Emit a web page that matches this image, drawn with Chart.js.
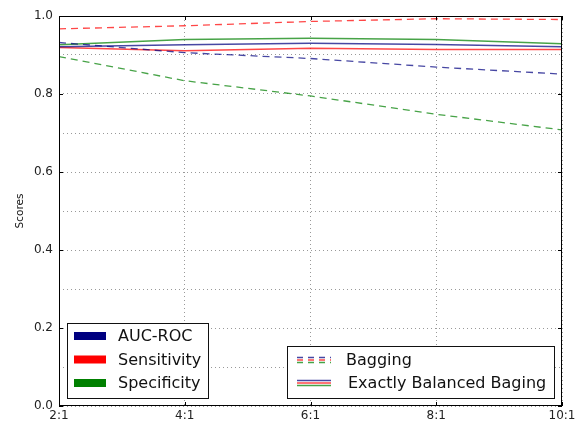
<!DOCTYPE html>
<html><head><meta charset="utf-8">
<script src="https://cdn.jsdelivr.net/npm/chart.js@4"></script>
<style>html,body{margin:0;padding:0;background:#fff}#wrap{width:582px;height:425px}</style>
</head><body><div id="wrap"><canvas id="c" width="582" height="425"></canvas></div>
<script>
const categories = ['2:1', '4:1', '6:1', '8:1', '10:1'];
const bagAUC  = [0.932, 0.906, 0.891, 0.869, 0.851];
const bagSens = [0.967, 0.975, 0.986, 0.993, 0.991];
const bagSpec = [0.896, 0.834, 0.795, 0.748, 0.708];
const ebbAUC  = [0.921, 0.926, 0.930, 0.927, 0.921];
const ebbSens = [0.919, 0.911, 0.917, 0.914, 0.914];
const ebbSpec = [0.926, 0.940, 0.943, 0.940, 0.929];
const metricNames = ['AUC-ROC', 'Sensitivity', 'Specificity'];
const methodNames = ['Bagging', 'Exactly Balanced Baging'];
const yAxisTitle = 'Scores';

const FONT = 'DejaVu Sans';
const solidCols = ['#000080', '#ff0000', '#008000'];
const lineCols = ['rgba(0,0,128,0.72)', 'rgba(255,0,0,0.72)', 'rgba(0,128,0,0.72)'];

function ds(label, data, ci, dashed) {
  return {
    label, data,
    borderColor: lineCols[ci],
    backgroundColor: lineCols[ci],
    borderWidth: dashed ? 1.3 : 1.5,
    borderDash: dashed ? [7, 5] : [],
    pointRadius: 0, fill: false, tension: 0
  };
}

const frameAndLegends = {
  id: 'frameAndLegends',
  afterDraw(chart) {
    const ctx = chart.ctx;
    const a = chart.chartArea;
    const xs = chart.scales.x, ys = chart.scales.y;
    ctx.save();
    // frame
    ctx.strokeStyle = '#000';
    ctx.lineWidth = 1;
    ctx.setLineDash([]);
    ctx.strokeRect(Math.round(a.left) + 0.5, Math.round(a.top) + 0.5,
      Math.round(a.right - a.left) - 1, Math.round(a.bottom - a.top) - 1);
    // inner ticks
    ctx.beginPath();
    categories.forEach((c, i) => {
      const px = Math.round(xs.getPixelForValue(i)) + 0.5;
      ctx.moveTo(px, a.bottom); ctx.lineTo(px, a.bottom - 4);
      ctx.moveTo(px, a.top); ctx.lineTo(px, a.top + 4);
    });
    for (let k = 0; k <= 5; k++) {
      const py = Math.round(ys.getPixelForValue(k * 0.2)) + 0.5;
      ctx.moveTo(a.left, py); ctx.lineTo(a.left + 4, py);
      ctx.moveTo(a.right, py); ctx.lineTo(a.right - 4, py);
    }
    ctx.stroke();

    // legend 1: metrics
    ctx.fillStyle = '#fff';
    ctx.fillRect(67, 323, 141, 75);
    ctx.strokeStyle = '#111';
    ctx.strokeRect(67.5, 323.5, 141, 75);
    ctx.font = '16px "' + FONT + '"';
    ctx.textBaseline = 'middle';
    ctx.textAlign = 'left';
    const rowY = [336, 359.5, 383];
    metricNames.forEach((n, i) => {
      ctx.fillStyle = solidCols[i];
      ctx.fillRect(74, rowY[i] - 4, 32, 8);
      ctx.fillStyle = '#111';
      ctx.fillText(n, 118, rowY[i] + 1);
    });

    // legend 2: methods
    ctx.fillStyle = '#fff';
    ctx.fillRect(287, 346, 267, 52);
    ctx.strokeStyle = '#111';
    ctx.strokeRect(287.5, 346.5, 267, 52);
    const offs = [-2.6, 0, 2.6];
    [[360, true], [383, false]].forEach(([cy, dashed], r) => {
      offs.forEach((o, i) => {
        ctx.beginPath();
        ctx.strokeStyle = lineCols[i];
        ctx.lineWidth = 1.5;
        ctx.setLineDash(dashed ? [6, 5] : []);
        ctx.moveTo(297, cy + o); ctx.lineTo(331, cy + o);
        ctx.stroke();
      });
      ctx.setLineDash([]);
      ctx.fillStyle = '#111';
      ctx.fillText(methodNames[r], r === 0 ? 346 : 348, cy + 1);
    });
    ctx.restore();
  }
};

new Chart(document.getElementById('c'), {
  type: 'line',
  data: {
    labels: categories,
    datasets: [
      ds(metricNames[0] + ' ' + methodNames[0], bagAUC, 0, true),
      ds(metricNames[1] + ' ' + methodNames[0], bagSens, 1, true),
      ds(metricNames[2] + ' ' + methodNames[0], bagSpec, 2, true),
      ds(metricNames[0] + ' ' + methodNames[1], ebbAUC, 0, false),
      ds(metricNames[1] + ' ' + methodNames[1], ebbSens, 1, false),
      ds(metricNames[2] + ' ' + methodNames[1], ebbSpec, 2, false)
    ]
  },
  options: {
    responsive: false,
    animation: false,
    devicePixelRatio: 1,
    layout: { padding: { left: 0, right: 20, top: 16, bottom: 0 } },
    plugins: { legend: { display: false }, tooltip: { enabled: false } },
    scales: {
      x: {
        type: 'category',
        offset: false,
        grid: { color: 'rgba(0,0,0,0.4)', lineWidth: 1, drawTicks: false },
        border: { display: false, dash: [1, 3] },
        ticks: { color: '#222', font: { family: FONT, size: 12 }, padding: 3, maxRotation: 0, autoSkip: false },
        afterFit(s) { s.height = 19; }
      },
      y: {
        min: 0, max: 1,
        grid: { color: 'rgba(0,0,0,0.4)', lineWidth: 1, drawTicks: false },
        border: { display: false, dash: [1, 3] },
        ticks: {
          stepSize: 0.1,
          color: '#222',
          font: { family: FONT, size: 12 },
          padding: 6,
          callback: v => (Math.round(v * 10) % 2 === 0 ? v.toFixed(1) : '')
        },
        title: { display: true, text: yAxisTitle, color: '#111', font: { family: FONT, size: 10.5 }, padding: { top: 14, bottom: 0 } },
        afterFit(s) { s.width = 59; }
      }
    }
  },
  plugins: [frameAndLegends]
});
</script>
</body></html>
